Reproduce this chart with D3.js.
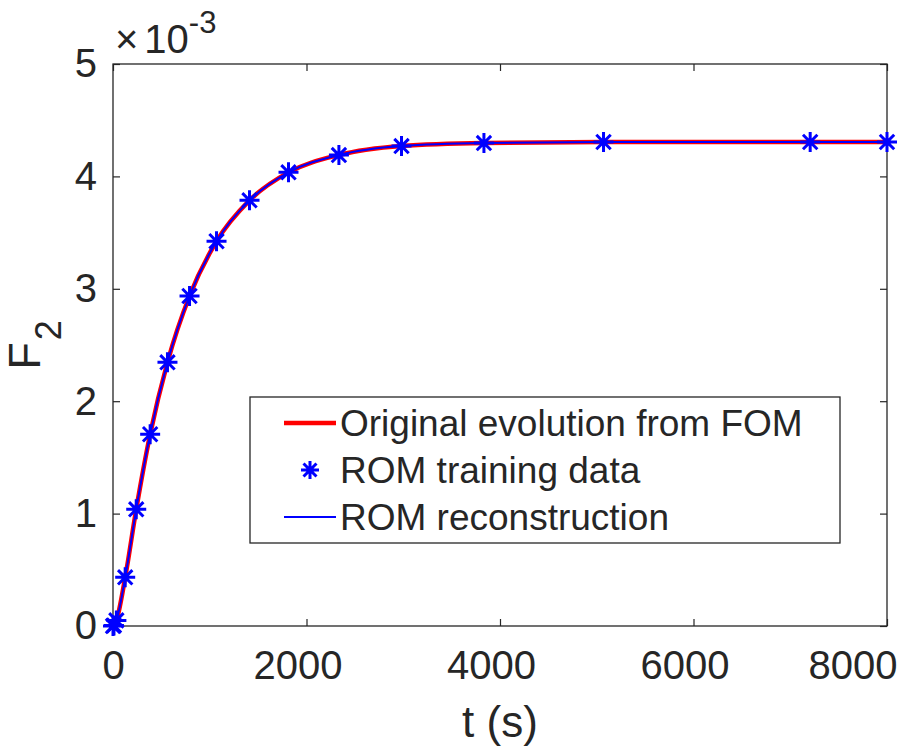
<!DOCTYPE html>
<html>
<head>
<meta charset="utf-8">
<script src="https://cdn.jsdelivr.net/npm/d3@7"></script>
<style>
  body { margin: 0; background: #fff; }
  text { font-family: Arial, "Liberation Sans", sans-serif; fill: #262626; }
</style>
</head>
<body>
<div id="chart"></div>
<script>
// data (F2 values in units of 1e-3)
var times = [0, 10, 35, 126, 240, 384, 563, 791, 1070, 1411, 1814, 2335, 2982, 3834, 5070, 7206, 8000];
var fomValues = [0, 0.005, 0.05, 0.433, 1.038, 1.706, 2.346, 2.936, 3.423, 3.787, 4.036, 4.190, 4.270, 4.297, 4.306, 4.306, 4.306];
var trainValues = [0, 0.005, 0.05, 0.433, 1.038, 1.706, 2.346, 2.936, 3.423, 3.787, 4.036, 4.190, 4.270, 4.297, 4.306, 4.306, 4.306];
var romValues = [0, 0.005, 0.05, 0.433, 1.038, 1.706, 2.346, 2.936, 3.423, 3.787, 4.036, 4.190, 4.270, 4.297, 4.306, 4.306, 4.306];
var xTicks = [0, 2000, 4000, 6000, 8000];
var yTicks = [0, 1, 2, 3, 4, 5];
var legendLabels = ["Original evolution from FOM", "ROM training data", "ROM reconstruction"];

var W = 899, H = 747;
var margin = { top: 64, right: 12, bottom: 121, left: 113 };
var width = W - margin.left - margin.right;
var height = H - margin.top - margin.bottom;
var ink = "#262626";

var svg = d3.select("#chart").append("svg")
    .attr("width", W)
    .attr("height", H);

var g = svg.append("g")
    .attr("transform", "translate(" + margin.left + "," + margin.top + ")");

var x = d3.scaleLinear().domain([0, 8000]).range([0, width]);
var y = d3.scaleLinear().domain([0, 5]).range([height, 0]);

// axes (ticks point inward like MATLAB)
var xAxis = g.append("g")
    .attr("transform", "translate(0," + height + ")")
    .call(d3.axisBottom(x).tickValues(xTicks).tickSizeInner(-7).tickSizeOuter(0).tickPadding(25).tickFormat(d3.format("d")));
var yAxis = g.append("g")
    .call(d3.axisLeft(y).tickValues(yTicks).tickSizeInner(-7).tickSizeOuter(0).tickPadding(16).tickFormat(d3.format("d")));
g.append("g")
    .call(d3.axisTop(x).tickValues(xTicks).tickSizeInner(-7).tickSizeOuter(0).tickFormat(""));
g.append("g")
    .attr("transform", "translate(" + width + ",0)")
    .call(d3.axisRight(y).tickValues(yTicks).tickSizeInner(-7).tickSizeOuter(0).tickFormat(""));

g.selectAll(".domain").remove();
g.selectAll(".tick line").attr("stroke", ink).attr("stroke-width", 1.2);
g.selectAll(".tick text").style("font-size", "40px").attr("fill", ink);

// nudge x labels like the export, keeping them inside the figure
xAxis.selectAll(".tick text").each(function(d) {
  if (d === 0) return;
  var t = d3.select(this);
  var half = this.getComputedTextLength() / 2;
  var cx = margin.left + x(d) - 9;
  if (cx + half > W - 2) cx = W - 2 - half;
  t.attr("x", cx - margin.left - x(d));
});

// box
g.append("rect")
    .attr("width", width)
    .attr("height", height)
    .attr("fill", "none")
    .attr("stroke", ink)
    .attr("stroke-width", 1.3);

// lines
var line = function(vals) {
  return d3.line()
    .x(function(d, i) { return x(times[i]); })
    .y(function(d) { return y(d); })
    .curve(d3.curveMonotoneX)(vals);
};

g.append("path")
    .attr("d", line(fomValues))
    .attr("fill", "none")
    .attr("stroke", "#ff0000")
    .attr("stroke-width", 4.5);

g.append("path")
    .attr("d", line(romValues))
    .attr("fill", "none")
    .attr("stroke", "#0000ff")
    .attr("stroke-width", 2);

function star(r) {
  var a = r * 0.72;
  return "M" + (-r) + ",0L" + r + ",0M0," + (-r) + "L0," + r +
         "M" + (-a) + "," + (-a) + "L" + a + "," + a +
         "M" + (-a) + "," + a + "L" + a + "," + (-a);
}

g.selectAll(".mk")
    .data(trainValues)
    .enter()
    .append("path")
    .attr("class", "mk")
    .attr("transform", function(d, i) { return "translate(" + x(times[i]) + "," + y(d) + ")"; })
    .attr("d", star(10))
    .attr("stroke", "#0000ff")
    .attr("stroke-width", 3)
    .attr("fill", "none");

// exponent label
var ex = svg.append("text")
    .attr("x", 115)
    .attr("y", 53)
    .style("font-size", "40px");
ex.append("tspan").text("\u00d7");
ex.append("tspan").attr("dx", 6).text("10");
ex.append("tspan").attr("dy", -20).style("font-size", "31px").text("-3");

// axis labels
svg.append("text")
    .attr("x", margin.left + width / 2)
    .attr("y", 737)
    .attr("text-anchor", "middle")
    .style("font-size", "44px")
    .text("t (s)");

var yl = svg.append("text")
    .attr("transform", "translate(40," + (margin.top + height / 2) + ") rotate(-90)")
    .attr("text-anchor", "middle")
    .style("font-size", "45px");
yl.append("tspan").text("F");
yl.append("tspan").attr("dy", 21).attr("dx", 2).style("font-size", "36px").text("2");

// legend
var lg = svg.append("g").attr("transform", "translate(250,397)");
lg.append("rect")
    .attr("width", 590)
    .attr("height", 146)
    .attr("fill", "#fff")
    .attr("stroke", ink)
    .attr("stroke-width", 1.3);

var rowY = [26, 73, 120];
lg.append("line").attr("x1", 34).attr("x2", 86).attr("y1", rowY[0]).attr("y2", rowY[0])
    .attr("stroke", "#ff0000").attr("stroke-width", 4.5);
lg.append("path").attr("transform", "translate(60," + rowY[1] + ")").attr("d", star(9))
    .attr("stroke", "#0000ff").attr("stroke-width", 3).attr("fill", "none");
lg.append("line").attr("x1", 34).attr("x2", 86).attr("y1", rowY[2]).attr("y2", rowY[2])
    .attr("stroke", "#0000ff").attr("stroke-width", 2);

lg.selectAll(".lt")
    .data(legendLabels)
    .enter()
    .append("text")
    .attr("class", "lt")
    .attr("x", 90)
    .attr("y", function(d, i) { return rowY[i]; })
    .attr("dy", "0.36em")
    .style("font-size", "37px")
    .attr("fill", "#000")
    .text(function(d) { return d; });
</script>
</body>
</html>
